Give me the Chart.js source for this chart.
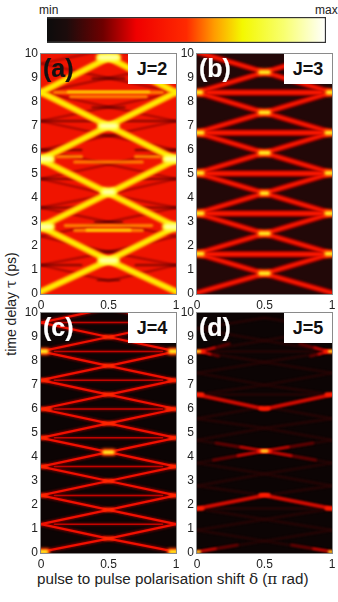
<!DOCTYPE html>
<html>
<head>
<meta charset="utf-8">
<script src="https://cdn.jsdelivr.net/npm/chart.js@4"></script>
<style>
  html, body { margin: 0; padding: 0; background: #fff; width: 338px; height: 602px; overflow: hidden; }
  body { position: relative; font-family: "Liberation Sans", Arial, sans-serif; color: #222; }
  canvas { position: absolute; }
  .txt { position: absolute; white-space: nowrap; }
  .tag { font-size: 25px; font-weight: bold; line-height: 28px; -webkit-text-stroke: 0.2px; }
  .jbox { position: absolute; background: #fff; width: 48px; height: 30px; line-height: 31px; text-align: center; font-size: 18px; font-weight: bold; color: #111; }
  .sym { font-family: "DejaVu Serif", "Liberation Serif", serif; }
</style>
</head>
<body>
<canvas id="colorbar" width="279" height="26" style="left:47px;top:17px"></canvas>
<div class="txt" style="left:39px;top:3px;font-size:12px">min</div>
<div class="txt" style="left:315px;top:3px;font-size:12px">max</div>

<canvas id="panelA" width="162" height="263" style="left:20px;top:47px"></canvas>
<canvas id="panelB" width="162" height="263" style="left:176px;top:47px"></canvas>
<canvas id="panelC" width="162" height="263" style="left:20px;top:306px"></canvas>
<canvas id="panelD" width="162" height="263" style="left:176px;top:306px"></canvas>

<div class="txt tag" style="left:43px;top:54px;color:#111">(a)</div>
<div class="txt tag" style="left:199px;top:54px;color:#fff">(b)</div>
<div class="txt tag" style="left:43px;top:313px;color:#fff">(c)</div>
<div class="txt tag" style="left:199px;top:313px;color:#fff">(d)</div>
<div class="jbox" style="left:128px;top:54px">J=2</div>
<div class="jbox" style="left:284px;top:54px">J=3</div>
<div class="jbox" style="left:128px;top:313px">J=4</div>
<div class="jbox" style="left:284px;top:313px">J=5</div>

<div class="txt" style="left:37px;top:570px;font-size:15.2px">pulse to pulse polarisation shift <span class="sym">δ</span> (<span class="sym">π</span> rad)</div>
<div class="txt" style="left:11px;top:304px;font-size:14px;transform:translate(-50%,-50%) rotate(-90deg)">time delay <span class="sym">τ</span> (ps)</div>

<script>
// ------------------ DATA ------------------
const xTicks = [0, 0.5, 1];
const yTicks = [0, 1, 2, 3, 4, 5, 6, 7, 8, 9, 10];

const barStops = [0, 0.07, 0.2, 0.32, 0.5, 0.6, 0.7, 0.85, 1];
const barColors = ["#0c0c0c", "#1c0c0c", "#6e0000", "#f00000", "#ff2a00", "#ff9c00", "#f4f800", "#f8ff70", "#ffffff"];

// pairs are [time at the edges, time at the centre]
const j2Bright = [[0.1, 1.4], [2.8, 1.4], [2.8, 4.2], [5.6, 4.2], [5.6, 7.0], [8.4, 7.0], [8.4, 9.85]];
const j2Dark = [[1.2, 0.55], [1.2, 1.75], [2.4, 1.75], [2.4, 3.0], [3.6, 3.0], [3.6, 4.15], [4.8, 4.15], [4.8, 5.4], [6.0, 5.4], [6.0, 6.6], [7.2, 6.6], [7.2, 7.8], [8.4, 7.8], [8.4, 9.0], [9.6, 9.0], [9.6, 10.2]];
const j3Bright = [[0.05, 0.85], [1.68, 0.85], [1.68, 2.52], [3.36, 2.52], [3.36, 4.2], [5.04, 4.2], [5.04, 5.88], [6.72, 5.88], [6.72, 7.56], [8.4, 7.56], [8.4, 9.24], [10.08, 9.24]];
const j4Bright = [[0.05, 0.6], [1.2, 0.6], [1.2, 1.8], [2.4, 1.8], [2.4, 3.0], [3.6, 3.0], [3.6, 4.2], [4.8, 4.2], [4.8, 5.4], [6.0, 5.4], [6.0, 6.6], [7.2, 6.6], [7.2, 7.8], [8.4, 7.8], [8.4, 9.0], [9.6, 9.0], [9.6, 10.2]];
const j5Faint = [[0.05, 0.5], [0.95, 0.5], [0.95, 1.4], [1.85, 1.4], [2.8, 2.4], [2.8, 3.3], [3.75, 3.3], [3.75, 4.25], [4.7, 4.25], [4.7, 5.2], [5.6, 5.2], [5.6, 6.1], [6.6, 7.0], [7.5, 7.0], [7.5, 7.95], [8.4, 7.95], [8.4, 8.85], [9.35, 8.85], [9.35, 9.8]];
const j5Red = [[1.85, 2.4], [6.6, 6.0]];

// horizontal bands are [x from, x to, time]
const j2Bands = [[0.1, 0.9, 8.4], [0.22, 0.78, 8.22], [0.25, 0.75, 2.65], [0.18, 0.82, 2.85], [0.25, 0.75, 5.5], [0.12, 0.3, 5.72], [0.7, 0.88, 5.72]];
const j2BandCores = [[0.2, 0.8, 8.42], [0.34, 0.66, 2.66]];
const j2DarkBands = [[0, 0.4, 7.2], [0.6, 1, 7.2], [0, 0.3, 4.8], [0.7, 1, 4.8], [0, 0.3, 3.6], [0.7, 1, 3.6], [0, 0.3, 1.2], [0.7, 1, 1.2], [0, 0.3, 6.0], [0.7, 1, 6.0], [0.38, 0.62, 8.98], [0.38, 0.62, 7.78], [0.4, 0.6, 6.6], [0.4, 0.6, 3.0], [0.4, 0.6, 1.77], [0.42, 0.58, 0.58]];
const j3Bands = [[0.08, 0.92, 1.66], [0.08, 0.92, 3.35], [0.08, 0.92, 5.02], [0.08, 0.92, 6.72], [0.08, 0.92, 8.4]];
const j4Bands = [[0.1, 0.9, 1.2], [0.1, 0.9, 2.4], [0.1, 0.9, 3.6], [0.1, 0.9, 4.8], [0.1, 0.9, 6.0], [0.1, 0.9, 7.2], [0.1, 0.9, 8.4], [0.1, 0.9, 9.6]];
const j5Bands = [[0.12, 0.88, 8.4], [0.08, 0.92, 6.6], [0.1, 0.9, 1.85]];

// short hot spots are [x from, x to, time]
const j2Hot = [[0.45, 0.55, 1.4], [0.45, 0.55, 7.0], [0.44, 0.56, 9.85], [0.47, 0.53, 4.25], [0, 0.07, 5.62], [0.93, 1, 5.62], [0, 0.07, 2.8], [0.93, 1, 2.8]];
const j3Hot = [[0.47, 0.53, 0.86], [0.47, 0.53, 2.52], [0.48, 0.52, 4.2], [0.47, 0.53, 5.88], [0.47, 0.53, 7.56], [0.47, 0.53, 9.24], [0, 0.04, 1.68], [0.96, 1, 1.68], [0, 0.04, 3.36], [0.96, 1, 3.36], [0, 0.04, 5.04], [0.96, 1, 5.04], [0, 0.04, 6.72], [0.96, 1, 6.72], [0, 0.03, 8.4], [0.97, 1, 8.4]];
const j4Warm = [[0, 0.05, 7.2], [0.95, 1, 7.2], [0, 0.07, 6.0], [0.93, 1, 6.0], [0, 0.04, 2.4], [0.96, 1, 2.4], [0, 0.04, 3.6], [0.96, 1, 3.6], [0, 0.04, 4.8], [0.96, 1, 4.8], [0.47, 0.53, 3.0], [0.47, 0.53, 1.8], [0.47, 0.53, 0.6], [0.46, 0.54, 5.4], [0.47, 0.53, 6.6], [0.47, 0.53, 7.8], [0.47, 0.53, 9.0]];
const j4Hot = [[0, 0.04, 8.4], [0.96, 1, 8.4], [0.47, 0.53, 4.2], [0, 0.04, 0.05], [0.96, 1, 0.05]];
const j5Warm = [[0, 0.04, 1.85], [0.96, 1, 1.85], [0, 0.04, 6.6], [0.96, 1, 6.6], [0.46, 0.54, 4.25], [0, 0.05, 8.4], [0.95, 1, 8.4], [0.47, 0.53, 6.02], [0.47, 0.53, 2.42]];
const j5Hot = [[0, 0.02, 8.4], [0.98, 1, 8.4], [0.48, 0.52, 4.25], [0, 0.02, 0.05], [0.98, 1, 0.05]];

// pieces are [x from, time from, x to, time to]
const j5RedPieces = [[0, 0.05, 0.14, 0.18], [1, 0.05, 0.86, 0.18], [0.03, 8.4, 0.13, 8.56], [0.97, 8.4, 0.87, 8.56], [0.03, 8.4, 0.1, 8.28], [0.97, 8.4, 0.9, 8.28], [0.5, 4.25, 0.3, 4.05], [0.5, 4.25, 0.7, 4.05], [0.5, 4.25, 0.32, 4.42], [0.5, 4.25, 0.68, 4.42]];
const j5MidPieces = [[0, 0.05, 0.3, 0.33], [1, 0.05, 0.7, 0.33], [0.03, 8.4, 0.24, 8.72], [0.97, 8.4, 0.76, 8.72], [0.03, 8.4, 0.16, 8.2], [0.97, 8.4, 0.84, 8.2], [0.5, 4.25, 0.12, 3.87], [0.5, 4.25, 0.88, 3.87], [0.5, 4.25, 0.14, 4.58], [0.5, 4.25, 0.86, 4.58]];

// ------------------ HELPERS ------------------
const vee = ([edge, centre]) => [{ x: 0, y: edge }, { x: 0.5, y: centre }, { x: 1, y: edge }];
const band = ([from, to, t]) => [{ x: from, y: t }, { x: to, y: t }];
const piece = ([x0, t0, x1, t1]) => [{ x: x0, y: t0 }, { x: x1, y: t1 }];

function stroke(lines, color, width, soft = 1) {
  return lines.map(data => ({
    data,
    soft,
    borderColor: color,
    borderWidth: width,
    showLine: true,
    pointRadius: 0,
    borderCapStyle: "round",
    borderJoinStyle: "round",
  }));
}

// fills the plot, softens each line by its own amount and draws the frame
const panelLook = {
  id: "panelLook",
  beforeDatasetsDraw(chart, args, opts) {
    const { ctx, chartArea: a } = chart;
    ctx.save();
    ctx.fillStyle = opts.background;
    ctx.fillRect(a.left, a.top, a.width, a.height);
    ctx.restore();
  },
  beforeDatasetDraw(chart, args) {
    chart.ctx.filter = `blur(${chart.data.datasets[args.index].soft}px)`;
  },
  afterDatasetsDraw(chart) {
    const { ctx, chartArea: a } = chart;
    ctx.filter = "none";
    ctx.save();
    ctx.strokeStyle = "#8a8a8a";
    ctx.lineWidth = 1;
    ctx.strokeRect(a.left - 0.5, a.top - 0.5, a.width + 1, a.height + 1);
    ctx.restore();
  },
};

function drawPanel(id, background, layers) {
  const tickFont = { family: "'Liberation Sans', Arial, sans-serif", size: 12 };
  new Chart(document.getElementById(id), {
    type: "scatter",
    // the library paints the first dataset last, so the list is turned round
    data: { datasets: layers.slice().reverse() },
    plugins: [panelLook],
    options: {
      responsive: false,
      animation: false,
      layout: { padding: { top: 7, right: 6, left: 0, bottom: 0 } },
      plugins: { legend: { display: false }, tooltip: { enabled: false }, panelLook: { background } },
      scales: {
        x: {
          type: "linear", min: 0, max: 1,
          afterBuildTicks: s => { s.ticks = xTicks.map(value => ({ value })); },
          afterFit: s => { s.height = 16; s.paddingLeft = 0; s.paddingRight = 0; },
          grid: { drawOnChartArea: false, tickLength: -3, color: "#777" },
          border: { display: false },
          ticks: { font: tickFont, color: "#222", padding: 7, maxRotation: 0, autoSkip: false, callback: v => String(v) },
        },
        y: {
          type: "linear", min: 0, max: 10,
          afterBuildTicks: s => { s.ticks = yTicks.map(value => ({ value })); },
          afterFit: s => { s.width = 21; s.paddingTop = 0; s.paddingBottom = 0; },
          grid: { drawOnChartArea: false, tickLength: -3, color: "#777" },
          border: { display: false },
          ticks: { font: tickFont, color: "#222", padding: 6, autoSkip: false },
        },
      },
    },
  });
}

// ------------------ COLOUR BAR ------------------
new Chart(document.getElementById("colorbar"), {
  type: "bar",
  data: {
    labels: ["level"],
    datasets: [{
      data: [1],
      barPercentage: 1,
      categoryPercentage: 1,
      borderWidth: 1.5,
      borderColor: "#333",
      backgroundColor(c) {
        const a = c.chart.chartArea;
        if (!a) return barColors[0];
        const g = c.chart.ctx.createLinearGradient(a.left, 0, a.right, 0);
        barStops.forEach((s, i) => g.addColorStop(s, barColors[i]));
        return g;
      },
    }],
  },
  options: {
    indexAxis: "y",
    responsive: false,
    animation: false,
    plugins: { legend: { display: false }, tooltip: { enabled: false } },
    scales: { x: { display: false, min: 0, max: 1 }, y: { display: false } },
  },
});

// ------------------ PANELS ------------------
drawPanel("panelA", "#f01400", [
  ...stroke(j2Dark.map(vee), "rgba(130,0,0,0.75)", 1.8, 0.8),
  ...stroke(j2DarkBands.map(band), "rgba(70,0,0,0.75)", 1.8, 0.8),
  ...stroke(j2Bands.map(band), "#ff8000", 3.2, 1),
  ...stroke(j2BandCores.map(band), "#ffd800", 2.4, 1),
  ...stroke(j2Bright.map(vee), "#ff7000", 7.5, 1.2),
  ...stroke(j2Bright.map(vee), "#ffec00", 4.6, 0.9),
  ...stroke(j2Hot.map(band), "#ffff30", 9, 1.8),
  ...stroke(j2Hot.map(band), "#ffffb0", 4, 1.5),
]);

drawPanel("panelB", "#220808", [
  ...stroke(j3Bright.map(vee), "#8a0000", 6.5, 1.3),
  ...stroke(j3Bands.map(band), "#8a0000", 7, 1.3),
  ...stroke(j3Bright.map(vee), "#ff1800", 3.4, 1),
  ...stroke(j3Bands.map(band), "#ff1800", 4, 1),
  ...stroke(j3Hot.map(band), "#ff5000", 7.5, 1.6),
  ...stroke(j3Hot.map(band), "#ffee20", 3.6, 1.2),
]);

drawPanel("panelC", "#0c0404", [
  ...stroke(j4Bands.map(band), "#580000", 2.8, 1),
  ...stroke(j4Bright.map(vee), "#700000", 4.2, 1.1),
  ...stroke(j4Bands.map(band), "#c00400", 1.5, 0.7),
  ...stroke(j4Bright.map(vee), "#f01000", 2.2, 0.7),
  ...stroke(j4Warm.map(band), "#ff2800", 4, 1.2),
  ...stroke(j4Hot.map(band), "#ff4000", 7.5, 1.6),
  ...stroke(j4Hot.map(band), "#ffee20", 3.6, 1.2),
]);

drawPanel("panelD", "#0c0404", [
  ...stroke(j5Faint.map(vee), "#2a0404", 2.2, 1.1),
  ...stroke(j5Bands.map(band), "#2c0404", 2, 1.1),
  ...stroke(j5MidPieces.map(piece), "#6a0000", 2.6, 1),
  ...stroke(j5RedPieces.map(piece), "#e00800", 1.9, 0.8),
  ...stroke(j5Red.map(vee), "#800000", 4, 1.1),
  ...stroke(j5Red.map(vee), "#f01000", 2.1, 0.8),
  ...stroke(j5Warm.map(band), "#ff1c00", 4, 1.2),
  ...stroke(j5Hot.map(band), "#ffe020", 2.8, 1),
]);
</script>
</body>
</html>
